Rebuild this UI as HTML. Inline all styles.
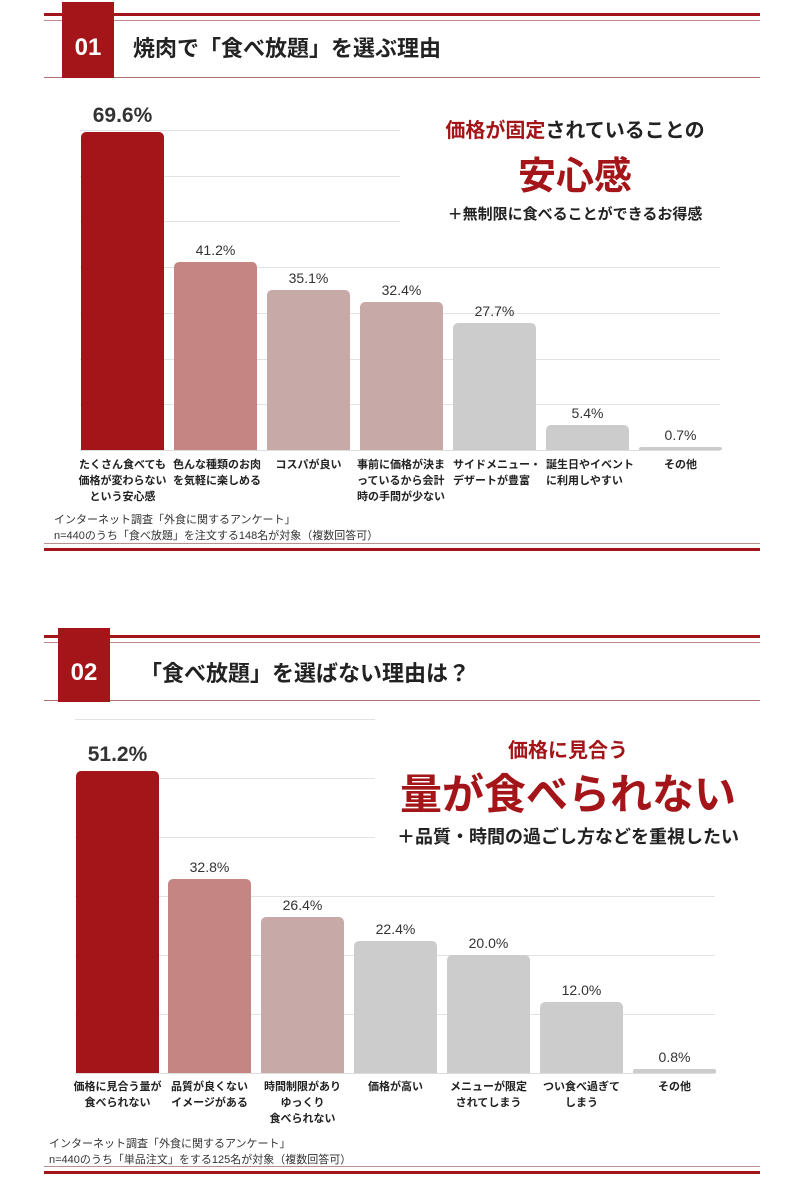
<!DOCTYPE html>
<html><head><meta charset="utf-8"><style>
body{margin:0;width:797px;height:1187px;background:#fff;position:relative;overflow:hidden;font-family:"Liberation Sans","Noto Sans CJK JP",sans-serif;color:#222}
div{position:absolute}
.l{height:0;left:44px;width:716px}
.box{background:#a31518;color:#fff;font-weight:bold;font-size:24px;text-align:center}
.tt{font-weight:bold;font-size:22px;color:#222;white-space:nowrap}
.g{height:1px;background:#e2e2e2}
.b{width:83px;border-radius:5px 5px 0 0}
.v{width:83px;text-align:center;font-size:14px;color:#333}
.c{width:93px;text-align:center;font-size:11px;font-weight:bold;line-height:16px;white-space:nowrap;color:#222}
.f{font-size:11px;line-height:16px;color:#333;white-space:nowrap}
.ctr{text-align:center;font-weight:bold;white-space:nowrap}
</style></head><body>
<div class="l" style="top:13px;border-top:3px solid #a31518"></div>
<div class="l" style="top:20px;border-top:1px solid #c08a8a"></div>
<div class="l" style="top:77px;border-top:1px solid #b07070"></div>
<div class="box" style="left:62px;top:2px;width:52px;height:76px;line-height:92px">01</div>
<div class="tt" style="left:133px;top:31px">焼肉で「食べ放題」を選ぶ理由</div>
<div class="g" style="left:80px;top:130px;width:320px"></div>
<div class="g" style="left:80px;top:176px;width:320px"></div>
<div class="g" style="left:80px;top:221px;width:320px"></div>
<div class="g" style="left:80px;top:267px;width:640px"></div>
<div class="g" style="left:80px;top:313px;width:640px"></div>
<div class="g" style="left:80px;top:359px;width:640px"></div>
<div class="g" style="left:80px;top:404px;width:640px"></div>
<div class="g" style="left:80px;top:450px;width:640px;background:#ddd"></div>
<div class="b" style="left:81px;top:132px;height:318px;background:#a31518"></div>
<div class="b" style="left:174px;top:262px;height:188px;background:#c48583"></div>
<div class="b" style="left:267px;top:290px;height:160px;background:#c7a9a8"></div>
<div class="b" style="left:360px;top:302px;height:148px;background:#c7a9a8"></div>
<div class="b" style="left:453px;top:323px;height:127px;background:#cccccc"></div>
<div class="b" style="left:546px;top:425px;height:25px;background:#cccccc"></div>
<div class="b" style="left:639px;top:447px;height:3px;background:#cccccc;border-radius:2px 2px 0 0"></div>
<div class="v" style="left:81px;top:104px;font-size:21px;font-weight:bold;width:83px">69.6%</div>
<div class="v" style="left:174px;top:242px">41.2%</div>
<div class="v" style="left:267px;top:270px">35.1%</div>
<div class="v" style="left:360px;top:282px">32.4%</div>
<div class="v" style="left:453px;top:303px">27.7%</div>
<div class="v" style="left:546px;top:405px">5.4%</div>
<div class="v" style="left:639px;top:427px">0.7%</div>
<div class="c" style="left:76px;top:457px">たくさん食べても<br>価格が変わらない<br>という安心感</div>
<div class="c" style="left:169px;top:457px;text-align:left;padding-left:4px">色んな種類のお肉<br>を気軽に楽しめる</div>
<div class="c" style="left:262px;top:457px">コスパが良い</div>
<div class="c" style="left:357px;top:457px;text-align:left">事前に価格が決ま<br>っているから会計<br>時の手間が少ない</div>
<div class="c" style="left:453px;top:457px;text-align:left">サイドメニュー・<br>デザートが豊富</div>
<div class="c" style="left:546px;top:457px;text-align:left">誕生日やイベント<br>に利用しやすい</div>
<div class="c" style="left:634px;top:457px">その他</div>
<div class="ctr" style="left:420px;top:114px;width:310px;font-size:20px;color:#222"><span style="color:#a31518">価格が固定</span>されていることの</div>
<div class="ctr" style="left:420px;top:145px;width:310px;font-size:38px;color:#a31518">安心感</div>
<div class="ctr" style="left:420px;top:203px;width:310px;font-size:15px;color:#222">＋無制限に食べることができるお得感</div>
<div class="f" style="left:54px;top:512px">インターネット調査「外食に関するアンケート」<br>n=440のうち「食べ放題」を注文する148名が対象（複数回答可）</div>
<div class="l" style="top:543px;border-top:1px solid #b89090"></div>
<div class="l" style="top:548px;border-top:3px solid #a31518"></div>

<div class="l" style="top:635px;border-top:3px solid #a31518"></div>
<div class="l" style="top:642px;border-top:1px solid #c08a8a"></div>
<div class="l" style="top:700px;border-top:1px solid #b07070"></div>
<div class="box" style="left:58px;top:628px;width:52px;height:74px;line-height:90px">02</div>
<div class="tt" style="left:140px;top:656px">「食べ放題」を選ばない理由は？</div>
<div class="g" style="left:75px;top:719px;width:300px"></div>
<div class="g" style="left:75px;top:778px;width:300px"></div>
<div class="g" style="left:75px;top:837px;width:300px"></div>
<div class="g" style="left:75px;top:896px;width:640px"></div>
<div class="g" style="left:75px;top:955px;width:640px"></div>
<div class="g" style="left:75px;top:1014px;width:640px"></div>
<div class="g" style="left:75px;top:1073px;width:640px;background:#ddd"></div>
<div class="b" style="left:76px;top:771px;height:302px;background:#a31518"></div>
<div class="b" style="left:168px;top:879px;height:194px;background:#c48583"></div>
<div class="b" style="left:261px;top:917px;height:156px;background:#c7a9a8"></div>
<div class="b" style="left:354px;top:941px;height:132px;background:#cccccc"></div>
<div class="b" style="left:447px;top:955px;height:118px;background:#cccccc"></div>
<div class="b" style="left:540px;top:1002px;height:71px;background:#cccccc"></div>
<div class="b" style="left:633px;top:1069px;height:4px;background:#cccccc;border-radius:2px 2px 0 0"></div>
<div class="v" style="left:76px;top:743px;font-size:21px;font-weight:bold">51.2%</div>
<div class="v" style="left:168px;top:859px">32.8%</div>
<div class="v" style="left:261px;top:897px">26.4%</div>
<div class="v" style="left:354px;top:921px">22.4%</div>
<div class="v" style="left:447px;top:935px">20.0%</div>
<div class="v" style="left:540px;top:982px">12.0%</div>
<div class="v" style="left:633px;top:1049px">0.8%</div>
<div class="c" style="left:71px;top:1079px">価格に見合う量が<br>食べられない</div>
<div class="c" style="left:163px;top:1079px">品質が良くない<br>イメージがある</div>
<div class="c" style="left:256px;top:1079px">時間制限があり<br>ゆっくり<br>食べられない</div>
<div class="c" style="left:349px;top:1079px">価格が高い</div>
<div class="c" style="left:442px;top:1079px">メニューが限定<br>されてしまう</div>
<div class="c" style="left:535px;top:1079px">つい食べ過ぎて<br>しまう</div>
<div class="c" style="left:628px;top:1079px">その他</div>
<div class="ctr" style="left:400px;top:734px;width:336px;font-size:20px;color:#a31518">価格に見合う</div>
<div class="ctr" style="left:400px;top:761px;width:336px;font-size:42px;color:#a31518">量が食べられない</div>
<div class="ctr" style="left:390px;top:823px;width:356px;font-size:18px;color:#222">＋品質・時間の過ごし方などを重視したい</div>
<div class="f" style="left:49px;top:1136px">インターネット調査「外食に関するアンケート」<br>n=440のうち「単品注文」をする125名が対象（複数回答可）</div>
<div class="l" style="top:1166px;border-top:1px solid #b89090"></div>
<div class="l" style="top:1171px;border-top:3px solid #a31518"></div>
</body></html>
